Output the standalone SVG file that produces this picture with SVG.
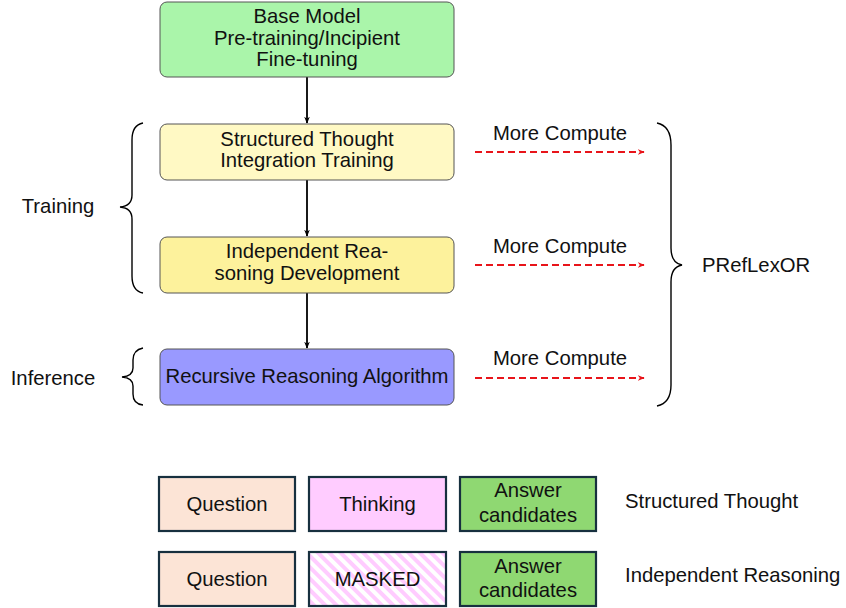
<svg xmlns="http://www.w3.org/2000/svg" width="846" height="608" viewBox="0 0 846 608">
<defs>
<style>
text{font-family:"Liberation Sans",Arial,sans-serif;font-size:20.3px;fill:#111;}
.c{text-anchor:middle;}
.box{stroke:#555;stroke-width:1;}
.seg{stroke:#17303f;stroke-width:2.2;}
.flow{stroke:#000;stroke-width:1.8;fill:none;marker-end:url(#ah);}
.more{stroke:#e8141a;stroke-width:1.9;fill:none;stroke-dasharray:7 4;marker-end:url(#rh);}
.brace{stroke:#000;stroke-width:1.4;fill:none;}
</style>
<marker id="ah" viewBox="0 0 10 10" refX="9" refY="5" markerWidth="7" markerHeight="7" orient="auto" markerUnits="userSpaceOnUse">
<path d="M0,1 L10,5 L0,9 L3,5 Z" fill="#000"/>
</marker>
<marker id="rh" viewBox="0 0 10 10" refX="9" refY="5" markerWidth="7" markerHeight="7" orient="auto" markerUnits="userSpaceOnUse">
<path d="M0,1 L10,5 L0,9 L3,5 Z" fill="#e8141a"/>
</marker>
<pattern id="stripes" width="8" height="8" patternUnits="userSpaceOnUse" patternTransform="rotate(-45)">
<rect width="8" height="8" fill="#ffffff"/>
<rect width="4" height="8" fill="#ffccff"/>
</pattern>
</defs>

<g id="connectors">
<line class="flow" x1="307" y1="77" x2="307" y2="123"/>
<line class="flow" x1="307" y1="180" x2="307" y2="236"/>
<line class="flow" x1="307" y1="293" x2="307" y2="348"/>
<line class="more" x1="475" y1="152" x2="644" y2="152"/>
<line class="more" x1="475" y1="265" x2="644" y2="265"/>
<line class="more" x1="475" y1="378" x2="644" y2="378"/>
</g>

<g id="base-model">
<rect class="box" x="160" y="2" width="294" height="75" rx="7" fill="#aaf5aa"/>
<text class="c" x="307" y="23">Base Model</text>
<text class="c" x="307" y="45">Pre-training/Incipient</text>
<text class="c" x="307" y="66">Fine-tuning</text>
</g>

<g id="structured-thought-training">
<rect class="box" x="160" y="124" width="294" height="56" rx="7" fill="#fff9c4"/>
<text class="c" x="307" y="146">Structured Thought</text>
<text class="c" x="307" y="167">Integration Training</text>
</g>

<g id="independent-reasoning-dev">
<rect class="box" x="160" y="237" width="294" height="56" rx="7" fill="#fdf29c"/>
<text class="c" x="307" y="258">Independent Rea-</text>
<text class="c" x="307" y="280">soning Development</text>
</g>

<g id="recursive-reasoning">
<rect class="box" x="160" y="349" width="294" height="56" rx="7" fill="#9999ff"/>
<text class="c" x="307" y="383">Recursive Reasoning Algorithm</text>
</g>

<g id="more-compute-labels">
<text class="c" x="560" y="140">More Compute</text>
<text class="c" x="560" y="253">More Compute</text>
<text class="c" x="560" y="365">More Compute</text>
</g>

<g id="training-brace">
<path class="brace" d="M143,123 Q132,125 132,140 L132,195 Q132,206 120,207 Q132,208 132,219 L132,276 Q132,291 143,293"/>
<text class="c" x="58" y="213">Training</text>
</g>

<g id="inference-brace">
<path class="brace" d="M143,348 Q133,350 133,360 L133,368 Q133,376 122,377 Q133,378 133,386 L133,394 Q133,404 143,405"/>
<text class="c" x="53" y="385">Inference</text>
</g>

<g id="prefloxor-brace">
<path class="brace" d="M657,123 Q671,126 671,145 L671,248 Q671,263 682,265 Q671,267 671,282 L671,385 Q671,403 657,406"/>
<text x="702" y="272">PRefLexOR</text>
</g>

<g id="row-structured">
<rect class="seg" x="159" y="477" width="136" height="54" fill="#fce4d6"/>
<text class="c" x="227" y="511">Question</text>
<rect class="seg" x="309" y="477" width="137" height="54" fill="#ffccff"/>
<text class="c" x="377.5" y="511">Thinking</text>
<rect class="seg" x="460" y="477" width="136" height="54" fill="#8fd872"/>
<text class="c" x="528" y="497">Answer</text>
<text class="c" x="528" y="522">candidates</text>
<text x="625" y="508">Structured Thought</text>
</g>

<g id="row-independent">
<rect class="seg" x="159" y="552" width="136" height="54" fill="#fce4d6"/>
<text class="c" x="227" y="586">Question</text>
<rect class="seg" x="309" y="552" width="137" height="54" fill="url(#stripes)"/>
<text class="c" x="377.5" y="586">MASKED</text>
<rect class="seg" x="460" y="552" width="136" height="54" fill="#8fd872"/>
<text class="c" x="528" y="573">Answer</text>
<text class="c" x="528" y="597">candidates</text>
<text x="625" y="582">Independent Reasoning</text>
</g>
</svg>
